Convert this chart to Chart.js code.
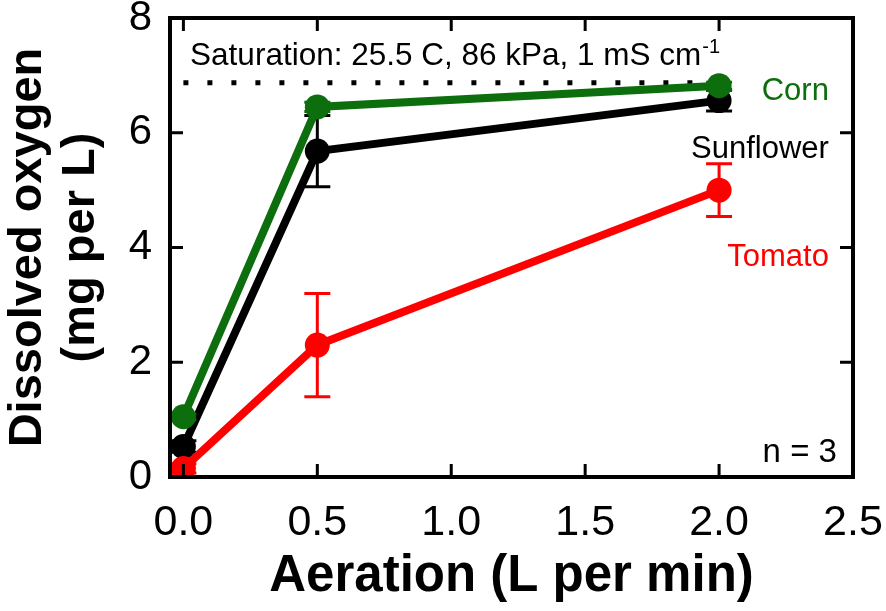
<!DOCTYPE html>
<html>
<head>
<meta charset="utf-8">
<script src="https://cdn.jsdelivr.net/npm/chart.js@4.4.0/dist/chart.umd.min.js"></script>
<style>
  html, body { margin: 0; padding: 0; background: #fff; }
</style>
</head>
<body>
<canvas id="chart" width="886" height="611"></canvas>
<script>
// values
const aeration = [0, 0.5, 2.0];
const cornDO = [1.05, 6.45, 6.82];
const cornErr = [0.05, 0.08, 0.06];
const sunflowerDO = [0.53, 5.68, 6.56];
const sunflowerErr = [0.1, 0.62, 0.18];
const tomatoDO = [0.15, 2.3, 5.0];
const tomatoErr = [0.08, 0.9, 0.46];
const saturationX = [0, 2.0];
const saturationDO = 6.87;
const xTicks = [0, 0.5, 1.0, 1.5, 2.0, 2.5];
const yTicks = [0, 2, 4, 6, 8];

const GREEN = "#0c6e0c";
const RED = "#ff0000";
const BLACK = "#000000";
const FONT = "'Liberation Sans', Arial, sans-serif";

function points(xs, ys) {
    return xs.map((x, i) => ({ x: x, y: ys[i] }));
}

function series(label, ys, errs, color) {
    return {
        label: label,
        data: points(aeration, ys),
        errors: errs,
        showLine: true,
        borderColor: color,
        backgroundColor: color,
        borderWidth: 8,
        pointRadius: 12.5,
        pointHoverRadius: 12.5,
        pointBorderWidth: 0,
        pointBackgroundColor: color,
        tension: 0,
    };
}

// error bars, drawn under each series' own line and markers
const errorBars = {
    id: "errorBars",
    beforeDatasetDraw(chart, args) {
        const ds = chart.data.datasets[args.index];
        if (!ds.errors) return;
        const { ctx, scales } = chart;
        ctx.save();
        ctx.strokeStyle = ds.borderColor;
        ctx.lineWidth = 3;
        ds.data.forEach((p, i) => {
            const e = ds.errors[i];
            const px = scales.x.getPixelForValue(p.x);
            const top = scales.y.getPixelForValue(p.y + e);
            const bot = scales.y.getPixelForValue(p.y - e);
            ctx.beginPath();
            ctx.moveTo(px, top);
            ctx.lineTo(px, bot);
            ctx.moveTo(px - 13, top);
            ctx.lineTo(px + 13, top);
            ctx.moveTo(px - 13, bot);
            ctx.lineTo(px + 13, bot);
            ctx.stroke();
        });
        ctx.restore();
    },
};

// box around the plot with inward ticks on all four sides
const frame = {
    id: "frame",
    afterDatasetsDraw(chart) {
        const { ctx, chartArea: a, scales } = chart;
        ctx.save();
        ctx.strokeStyle = BLACK;
        ctx.lineWidth = 3;
        ctx.beginPath();
        xTicks.forEach((v) => {
            const px = scales.x.getPixelForValue(v);
            ctx.moveTo(px, a.bottom);
            ctx.lineTo(px, a.bottom - 13);
            ctx.moveTo(px, a.top);
            ctx.lineTo(px, a.top + 13);
        });
        yTicks.forEach((v) => {
            const py = scales.y.getPixelForValue(v);
            ctx.moveTo(a.left, py);
            ctx.lineTo(a.left + 13, py);
            ctx.moveTo(a.right, py);
            ctx.lineTo(a.right - 13, py);
        });
        ctx.stroke();
        ctx.lineWidth = 4;
        ctx.strokeRect(a.left, a.top, a.right - a.left, a.bottom - a.top);
        ctx.restore();
    },
};

// text notes inside the plot
const notes = {
    id: "notes",
    afterDraw(chart) {
        const { ctx, scales } = chart;
        const X = (v) => scales.x.getPixelForValue(v);
        const Y = (v) => scales.y.getPixelForValue(v);
        ctx.save();
        ctx.textBaseline = "middle";

        ctx.fillStyle = BLACK;
        ctx.textAlign = "left";
        ctx.font = "31.5px " + FONT;
        const sat = "Saturation: 25.5 C, 86 kPa, 1 mS cm";
        const sx = X(0.025), sy = Y(7.33);
        ctx.fillText(sat, sx, sy);
        const w = ctx.measureText(sat).width;
        ctx.font = "20px " + FONT;
        ctx.fillText("-1", sx + w + 1, sy - 9);

        ctx.font = "31px " + FONT;
        ctx.textAlign = "right";
        ctx.fillStyle = GREEN;
        ctx.fillText("Corn", X(2.41), Y(6.72));
        ctx.fillStyle = BLACK;
        ctx.fillText("Sunflower", X(2.41), Y(5.71));
        ctx.fillStyle = RED;
        ctx.fillText("Tomato", X(2.41), Y(3.82));
        ctx.fillStyle = BLACK;
        ctx.font = "33px " + FONT;
        ctx.fillText("n = 3", X(2.44), Y(0.42));
        ctx.restore();
    },
};

const data = {
    datasets: [
        series("Tomato", tomatoDO, tomatoErr, RED),
        series("Corn", cornDO, cornErr, GREEN),
        series("Sunflower", sunflowerDO, sunflowerErr, BLACK),
        {
            label: "Saturation",
            data: points(saturationX, saturationX.map(() => saturationDO)),
            showLine: true,
            borderColor: BLACK,
            borderWidth: 5,
            borderDash: [5, 19],
            borderCapStyle: "butt",
            pointRadius: 0,
            pointHoverRadius: 0,
        },
    ],
};

const options = {
    responsive: false,
    animation: false,
    layout: { padding: { top: 18, right: 33, left: 0, bottom: 0 } },
    plugins: {
        legend: { display: false },
        tooltip: { enabled: false },
    },
    scales: {
        x: {
            type: "linear",
            min: -0.05,
            max: 2.5,
            grid: { display: false, drawTicks: false },
            border: { display: false },
            afterBuildTicks: (s) => { s.ticks = xTicks.map((v) => ({ value: v })); },
            afterFit: (s) => { s.height = 134; s.paddingLeft = 0; s.paddingRight = 0; },
            ticks: {
                color: BLACK,
                padding: 20,
                font: { family: FONT, size: 43 },
                callback: (v) => Number(v).toFixed(1),
            },
            title: {
                display: true,
                text: "Aeration (L per min)",
                color: BLACK,
                font: { family: FONT, size: 51, weight: "bold" },
                padding: { top: 0, bottom: 3 },
            },
        },
        y: {
            type: "linear",
            min: 0,
            max: 8,
            grid: { display: false, drawTicks: false },
            border: { display: false },
            afterBuildTicks: (s) => { s.ticks = yTicks.map((v) => ({ value: v })); },
            afterFit: (s) => { s.width = 170; s.paddingTop = 0; s.paddingBottom = 0; },
            ticks: {
                color: BLACK,
                padding: 18,
                font: { family: FONT, size: 42 },
                callback: (v) => String(v),
            },
            title: {
                display: true,
                text: ["Dissolved oxygen", "(mg per L)"],
                color: BLACK,
                font: { family: FONT, size: 47, weight: "bold", lineHeight: 1.12 },
                padding: { top: 2, bottom: 0 },
            },
        },
    },
};

new Chart(document.getElementById("chart").getContext("2d"), {
    type: "scatter",
    data: data,
    options: options,
    plugins: [errorBars, frame, notes],
});
</script>
</body>
</html>
